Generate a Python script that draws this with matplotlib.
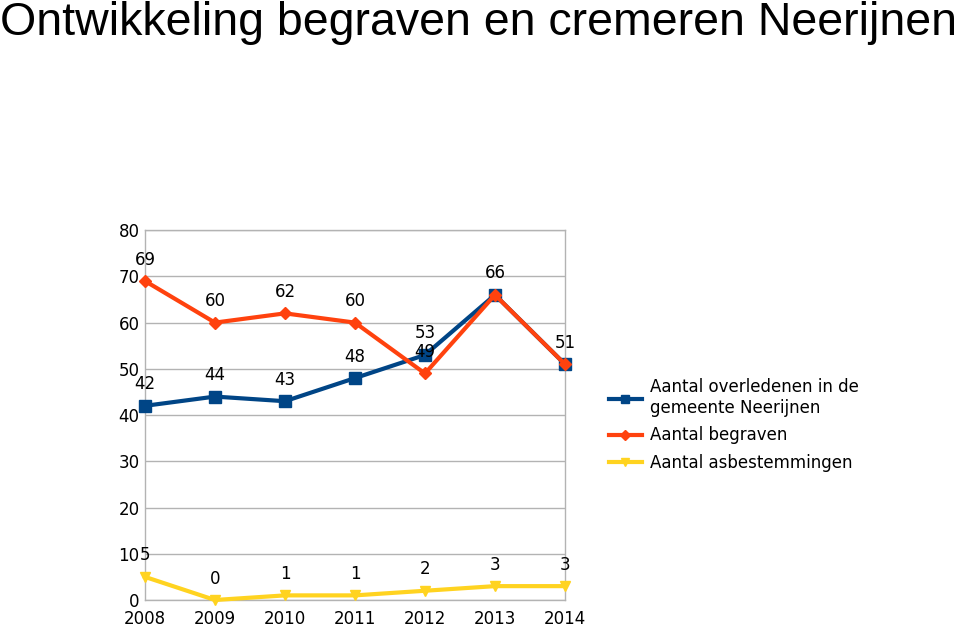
import matplotlib.pyplot as plt

# Gegevens
jaren = ['2008', '2009', '2010', '2011', '2012', '2013', '2014']
overledenen = [42, 44, 43, 48, 53, 66, 51]
begraven = [69, 60, 62, 60, 49, 66, 51]
asbestemmingen = [5, 0, 1, 1, 2, 3, 3]

labels = ['Aantal overledenen in de\ngemeente Neerijnen',
          'Aantal begraven',
          'Aantal asbestemmingen']
kleuren = ['#004586', '#ff420e', '#ffd320']
markers = ['s', 'D', 'v']
marker_sizes = [8, 6, 7]

plt.rcParams['font.family'] = ['DejaVu Sans']

fig = plt.figure(figsize=(9.6, 6.29), dpi=100)
ax = fig.add_axes([0.151, 0.0461, 0.4375, 0.588])

x = list(range(len(jaren)))
getoond = set()
for serie, label, kleur, m, ms in zip([overledenen, begraven, asbestemmingen],
                                      labels, kleuren, markers, marker_sizes):
    ax.plot(x, serie, color=kleur, marker=m, markersize=ms, linewidth=3,
            label=label, clip_on=False, zorder=3)
    for xi, v in zip(x, serie):
        if (xi, v) in getoond:
            continue
        getoond.add((xi, v))
        ax.annotate(str(v), (xi, v), xytext=(0, 9), textcoords='offset points',
                    ha='center', va='bottom', fontsize=12, zorder=4)

ax.set_xlim(0, len(jaren) - 1)
ax.set_ylim(0, 80)
ax.set_yticks(range(0, 81, 10))
ax.set_xticks(x)
ax.set_xticklabels(jaren)
ax.tick_params(axis='y', length=0, labelsize=12, pad=4)
ax.tick_params(axis='x', length=0, labelsize=12, pad=7)
ax.grid(axis='y', color='#b3b3b3', linewidth=1)
ax.set_axisbelow(True)
for s in ax.spines.values():
    s.set_color('#b3b3b3')
    s.set_linewidth(1)

fig.text(0.0, 0.963, 'Ontwikkeling begraven en cremeren Neerijnen',
         fontsize=33.5, family='Liberation Sans', ha='left', va='center')

ax.legend(loc='center left', bbox_to_anchor=(1.088, 0.473), frameon=False,
          fontsize=12, handlelength=2.0, handletextpad=0.5, labelspacing=0.55,
          borderaxespad=0, markerscale=0.8)

fig.savefig('out.png', dpi=100)
